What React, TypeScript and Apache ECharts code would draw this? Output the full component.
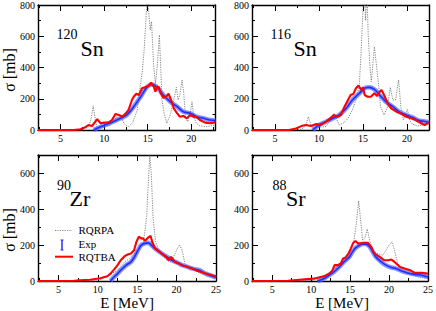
import React, { useEffect, useRef } from 'react';
import * as echarts from 'echarts';

type Pt = [number, number];

const SERIF = 'Liberation Serif';

// ---- 120Sn ----
const sn120Rqrpa: Pt[] = [[2.4,0],[7.5,2],[8.2,20],[8.5,70],[8.75,155],[9.0,60],[9.2,12],[9.6,15],[10.2,25],[10.7,30],[11.2,60],[11.6,100],[11.9,90],[12.3,40],[12.8,20],[13.3,50],[13.8,128],[14.2,300],[14.4,384],[14.6,512],[14.85,746],[15.0,850],[15.2,704],[15.3,640],[15.45,694],[15.7,405],[15.9,298],[16.1,405],[16.35,608],[16.5,405],[16.65,192],[16.9,107],[17.2,43],[17.6,96],[18.0,192],[18.3,273],[18.5,192],[18.7,224],[18.95,320],[19.15,235],[19.35,85],[19.6,53],[19.9,107],[20.1,181],[20.3,85],[20.6,43],[21,26],[21.8,21],[22.8,32]];
const sn120Exp: Pt[] = [[8.8,0],[9.6,21],[10.3,36],[11.1,55],[11.9,75],[12.6,96],[13.4,149],[14.2,213],[14.9,273],[15.5,292],[16.1,273],[16.8,224],[17.6,181],[18.4,149],[19.1,117],[19.9,107],[20.6,85],[21.4,75],[22.2,64],[22.8,60]];
const sn120Rqtba: Pt[] = [[2.4,0],[6.5,0],[7.3,5],[7.9,20],[8.2,32],[8.6,25],[9.2,70],[9.6,43],[10,47],[10.5,47],[10.9,64],[11.3,102],[11.7,96],[12.1,85],[12.5,107],[12.8,128],[13.2,192],[13.4,213],[13.7,232],[14,224],[14.35,267],[14.7,273],[15.1,282],[15.4,303],[15.7,277],[15.9,245],[16.1,277],[16.3,273],[16.5,235],[16.8,207],[17.1,213],[17.4,232],[17.7,192],[18,139],[18.4,107],[18.7,85],[19.1,90],[19.5,75],[19.9,96],[20.3,85],[20.6,85],[21,64],[21.6,47],[22.2,43],[22.8,49]];

// ---- 116Sn ----
const sn116Rqrpa: Pt[] = [[2.4,0],[8,2],[8.5,30],[8.8,85],[9.1,30],[9.4,12],[10,18],[10.8,22],[11.3,60],[11.7,107],[12,70],[12.3,32],[12.8,45],[13.3,75],[13.8,128],[14.2,192],[14.6,298],[14.8,512],[15,768],[15.15,900],[15.3,700],[15.45,900],[15.6,600],[15.8,405],[15.95,309],[16.1,405],[16.3,533],[16.55,405],[16.8,277],[17,149],[17.4,96],[17.8,149],[18.1,273],[18.4,192],[18.7,192],[19.05,320],[19.3,149],[19.6,64],[20.05,132],[20.3,64],[20.6,38],[21.2,26],[21.8,32],[22.5,43]];
const sn116Exp: Pt[] = [[9.3,0],[10,32],[10.8,53],[11.6,75],[12.3,96],[13.1,139],[13.8,192],[14.6,235],[15.3,271],[15.7,273],[16.3,260],[16.9,224],[17.6,181],[18.4,149],[19.1,117],[19.9,96],[20.6,81],[21.4,60],[22.2,53],[22.5,47]];
const sn116Rqtba: Pt[] = [[2.4,0],[6.6,0],[7.4,10],[8,25],[8.5,32],[9.1,25],[9.7,38],[10.2,32],[10.8,53],[11.4,81],[11.7,96],[12.1,85],[12.5,96],[12.9,149],[13.3,192],[13.6,224],[13.9,230],[14.2,267],[14.5,285],[14.8,256],[15,273],[15.2,224],[15.5,213],[15.9,213],[16.3,235],[16.6,218],[16.9,245],[17.1,256],[17.4,224],[17.8,171],[18.2,139],[18.8,117],[19.3,107],[19.9,85],[20.5,75],[21,64],[21.6,43],[22,32],[22.5,47]];

// ---- 90Zr ----
const zr90Rqrpa: Pt[] = [[2.4,0],[9,1],[10.5,10],[11.6,37],[12.5,60],[13.1,88],[13.4,106],[14,125],[14.65,153],[15.1,171],[15.4,190],[15.7,199],[15.95,265],[16.2,358],[16.4,544],[16.6,702],[16.8,581],[17,358],[17.3,227],[17.7,171],[18.1,143],[18.8,115],[19.2,106],[19.6,134],[20.1,181],[20.4,199],[20.7,171],[21.05,97],[21.6,69],[22.2,60],[23.1,41],[24,26],[25,13]];
const zr90Exp: Pt[] = [[11.6,0],[12.05,22],[12.5,41],[12.9,60],[13.6,88],[14.2,106],[14.65,134],[15.1,171],[15.5,199],[15.95,209],[16.4,212],[16.8,199],[17.25,181],[17.7,166],[18.1,153],[18.8,134],[19.4,115],[20.1,101],[20.7,88],[21.4,78],[22,69],[22.9,60],[23.7,41],[24.6,26],[25,20]];
const zr90Rqtba: Pt[] = [[2.4,0],[7,1],[7.7,4],[9,7],[10.3,15],[11.2,26],[11.6,41],[12.05,63],[12.5,88],[12.9,115],[13.4,138],[13.8,147],[14.2,153],[14.6,171],[14.9,218],[15.2,246],[15.5,237],[15.7,237],[16,224],[16.4,242],[16.7,250],[16.9,218],[17.25,181],[17.7,166],[18.1,153],[18.5,140],[19,115],[19.3,134],[19.8,106],[20.3,97],[20.7,88],[21.4,78],[22,69],[22.7,56],[23.3,47],[24,37],[25,26]];

// ---- 88Sr ----
const sr88Rqrpa: Pt[] = [[2.4,0],[10,2],[11.6,22],[12.7,60],[13.6,88],[14.4,134],[15.1,171],[15.5,227],[15.8,320],[16.1,445],[16.3,358],[16.6,227],[16.9,237],[17.2,289],[17.5,227],[17.9,171],[18.5,153],[19.2,143],[19.6,171],[20,199],[20.4,218],[20.7,171],[21.1,97],[21.8,60],[22.7,37],[23.8,22],[25,13]];
const sr88Exp: Pt[] = [[10.8,0],[11.6,13],[12.3,32],[12.9,50],[13.6,78],[14.2,106],[14.9,134],[15.3,162],[15.7,184],[16.2,199],[16.6,205],[17,205],[17.5,190],[17.9,162],[18.3,134],[19,106],[19.6,88],[20.3,75],[20.9,69],[21.6,56],[22.4,45],[23.3,37],[24.2,32],[25,22]];
const sr88Rqtba: Pt[] = [[2.4,0],[7,1],[10.3,13],[11.6,26],[12.3,41],[12.7,56],[13,88],[13.4,88],[13.8,97],[14.1,125],[14.4,130],[14.8,153],[15.1,181],[15.4,212],[15.7,222],[16,209],[16.4,209],[16.8,212],[17.3,212],[17.7,190],[18.1,153],[18.8,134],[19.4,115],[19.9,115],[20.3,119],[20.7,106],[21.4,78],[22,69],[22.7,60],[23.3,45],[24.2,45],[25,41]];

// ---- ticks ----
const xMajorTicks = [5, 10, 15, 20, 25];
const xMinorTicks = [2.5, 7.5, 12.5, 17.5, 22.5];
const yMajorTicks = [0, 200, 400, 600, 800];
const yMinorTicks = [100, 300, 500, 700];

const panels = [
  { left: 38, top: 5, width: 177.5, height: 125, xMin: 2.4, xMax: 22.8, yMax: 800, rqrpa: sn120Rqrpa, exp: sn120Exp, rqtba: sn120Rqtba },
  { left: 252, top: 5, width: 177, height: 125, xMin: 2.4, xMax: 22.5, yMax: 800, rqrpa: sn116Rqrpa, exp: sn116Exp, rqtba: sn116Rqtba },
  { left: 38, top: 155, width: 178, height: 126, xMin: 2.4, xMax: 25, yMax: 700, rqrpa: zr90Rqrpa, exp: zr90Exp, rqtba: zr90Rqtba },
  { left: 252, top: 155, width: 177, height: 126, xMin: 2.4, xMax: 25, yMax: 700, rqrpa: sr88Rqrpa, exp: sr88Exp, rqtba: sr88Rqtba },
];

const within = (vals: number[], lo: number, hi: number) => vals.filter((v) => v >= lo - 1e-9 && v <= hi + 1e-9);

const frame = { color: '#000', width: 1.4 };
const tickStyle = { color: '#000', width: 1 };
const labelStyle = { color: '#000', fontFamily: SERIF, fontSize: 10 };
const GRAY_DASH = { color: '#666', width: 0.8, type: [1.2, 1.2] };

function buildOption() {
  const grid: any[] = [];
  const xAxis: any[] = [];
  const yAxis: any[] = [];
  const series: any[] = [];
  panels.forEach((p, i) => {
    grid.push({ left: p.left, top: p.top, width: p.width, height: p.height, containLabel: false });
    const xMaj = within(xMajorTicks, p.xMin, p.xMax);
    const xMin = within(xMinorTicks, p.xMin, p.xMax);
    const yMaj = within(yMajorTicks, 0, p.yMax);
    const yMin = within(yMinorTicks, 0, p.yMax);
    const xb = { type: 'value', gridIndex: i, min: p.xMin, max: p.xMax, splitLine: { show: false } };
    const yb = { type: 'value', gridIndex: i, min: 0, max: p.yMax, splitLine: { show: false } };
    for (const pos of ['bottom', 'top']) {
      xAxis.push({ ...xb, position: pos, axisLine: { show: true, onZero: false, lineStyle: frame },
        axisTick: { show: true, inside: true, length: 6, customValues: xMaj, lineStyle: tickStyle },
        axisLabel: pos === 'bottom' ? { show: true, customValues: xMaj, margin: 3, ...labelStyle } : { show: false } });
      xAxis.push({ ...xb, position: pos, axisLine: { show: false, onZero: false },
        axisTick: { show: true, inside: true, length: 3, customValues: xMin, lineStyle: tickStyle },
        axisLabel: { show: false } });
    }
    for (const pos of ['left', 'right']) {
      yAxis.push({ ...yb, position: pos, axisLine: { show: true, onZero: false, lineStyle: frame },
        axisTick: { show: true, inside: true, length: 6, customValues: yMaj, lineStyle: tickStyle },
        axisLabel: pos === 'left' ? { show: true, customValues: yMaj, margin: 3, ...labelStyle } : { show: false } });
      yAxis.push({ ...yb, position: pos, axisLine: { show: false, onZero: false },
        axisTick: { show: true, inside: true, length: 3, customValues: yMin, lineStyle: tickStyle },
        axisLabel: { show: false } });
    }
    const xi = i * 4;
    const yi = i * 4;
    series.push({ name: 'RQRPA', type: 'line', xAxisIndex: xi, yAxisIndex: yi, data: p.rqrpa, showSymbol: false, clip: true, z: 2,
      lineStyle: GRAY_DASH });
    series.push({ name: 'Exp', type: 'line', xAxisIndex: xi, yAxisIndex: yi, data: p.exp, showSymbol: false, clip: true, smooth: 0.3, z: 3,
      lineStyle: { color: 'rgba(85,100,255,0.7)', width: 4.5 } });
    series.push({ name: 'Exp', type: 'line', xAxisIndex: xi, yAxisIndex: yi, data: p.exp, showSymbol: false, clip: true, smooth: 0.3, z: 4,
      lineStyle: { color: '#1f2fff', width: 1.6 } });
    series.push({ name: 'RQTBA', type: 'line', xAxisIndex: xi, yAxisIndex: yi, data: p.rqtba, showSymbol: false, clip: true, z: 5,
      lineStyle: { color: '#ff0000', width: 2.1 } });
  });

  const txt = (text: string, x: number, y: number, size: number) => ({
    type: 'text', x, y, z: 100,
    style: { text, fontSize: size, fontFamily: SERIF, fill: '#000', align: 'left', verticalAlign: 'middle' },
  });
  const ctxt = (text: string, x: number, y: number, size: number, rotation = 0) => ({
    type: 'text', x, y, z: 100, rotation,
    style: { text, fontSize: size, fontFamily: SERIF, fill: '#000', align: 'center', verticalAlign: 'middle' },
  });

  const graphic: any[] = [
    // isotope labels
    txt('120', 56.5, 34.6, 14), txt('Sn', 80.5, 48.6, 22),
    txt('116', 270.5, 34.6, 14), txt('Sn', 293.5, 48.6, 22),
    txt('90', 57, 185.8, 14), txt('Zr', 69.5, 198, 22),
    txt('88', 272.5, 185.8, 14), txt('Sr', 286, 198, 22),
    // axis names
    ctxt('σ [mb]', 9, 70, 16, Math.PI / 2),
    ctxt('σ [mb]', 9, 230, 16, Math.PI / 2),
    ctxt('E [MeV]', 127, 302.5, 15),
    ctxt('E [MeV]', 342, 302.5, 15),
    // legend
    { type: 'line', z: 100, shape: { x1: 55, y1: 230.5, x2: 72, y2: 230.5 }, style: { stroke: '#666', lineWidth: 0.8, lineDash: [1.2, 1.2] } },
    txt('RQRPA', 78.5, 230, 11),
    { type: 'line', z: 100, shape: { x1: 62, y1: 240, x2: 62, y2: 250 }, style: { stroke: '#1f2fff', lineWidth: 1.5 } },
    { type: 'line', z: 100, shape: { x1: 60.5, y1: 240, x2: 63.5, y2: 240 }, style: { stroke: '#1f2fff', lineWidth: 1 } },
    { type: 'line', z: 100, shape: { x1: 60.5, y1: 250, x2: 63.5, y2: 250 }, style: { stroke: '#1f2fff', lineWidth: 1 } },
    txt('Exp', 78.5, 243.5, 11),
    { type: 'line', z: 100, shape: { x1: 55, y1: 256.7, x2: 73, y2: 256.7 }, style: { stroke: '#ff0000', lineWidth: 2 } },
    txt('RQTBA', 78.5, 256.5, 11),
  ];

  return { animation: false, backgroundColor: '#fff', grid, xAxis, yAxis, series, graphic };
}

export default function App() {
  const ref = useRef<HTMLDivElement>(null);
  useEffect(() => {
    document.body.style.margin = '0';
    if (!ref.current) return;
    const chart = echarts.init(ref.current, undefined, { renderer: 'svg' });
    chart.setOption(buildOption() as any);
    return () => chart.dispose();
  }, []);
  return <div ref={ref} style={{ position: 'absolute', left: 0, top: 0, width: 436, height: 311 }} />;
}
